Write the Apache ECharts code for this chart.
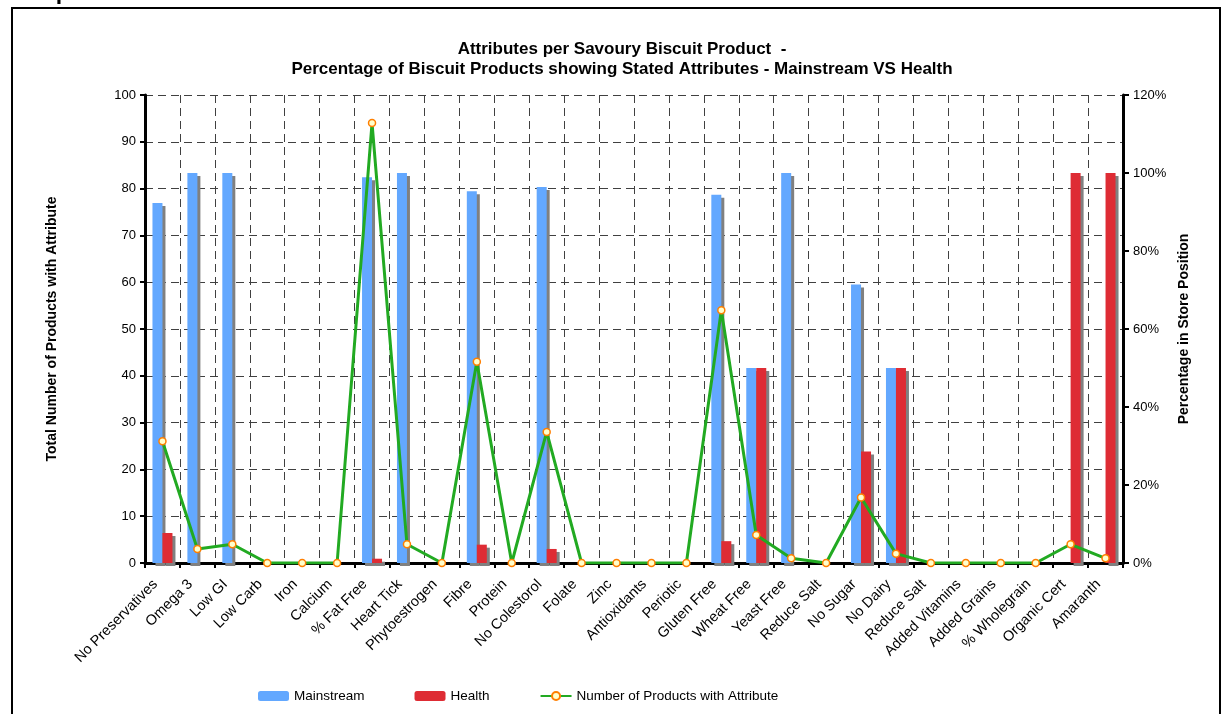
<!DOCTYPE html>
<html>
<head>
<meta charset="utf-8">
<title>Attributes per Savoury Biscuit Product</title>
<script src="https://cdn.jsdelivr.net/npm/echarts@6/dist/echarts.min.js"></script>
<style>
  html, body { margin: 0; padding: 0; background: #fff; }
  #chart { width: 1224px; height: 714px; }
</style>
</head>
<body>
<div id="chart"></div>
<script>
// Attribute categories along the x axis
const categories = [
  'No Preservatives', 'Omega 3', 'Low GI', 'Low Carb', 'Iron', 'Calcium',
  '% Fat Free', 'Heart Tick', 'Phytoestrogen', 'Fibre', 'Protein', 'No Colestorol',
  'Folate', 'Zinc', 'Antioxidants', 'Periotic', 'Gluten Free', 'Wheat Free',
  'Yeast Free', 'Reduce Salt', 'No Sugar', 'No Dairy', 'Reduce Salt',
  'Added Vitamins', 'Added Grains', '% Wholegrain', 'Organic Cert', 'Amaranth'
];

// Share of products in each store position (%), right axis
const mainstreamPct = [92.3, 100, 100, 0, 0, 0, 98.9, 100, 0, 95.3, 0, 96.4,
  0, 0, 0, 0, 94.4, 50, 100, 0, 71.4, 50, 0, 0, 0, 0, 0, 0];
const healthPct = [7.7, 0, 0, 0, 0, 0, 1.1, 0, 0, 4.7, 0, 3.6,
  0, 0, 0, 0, 5.6, 50, 0, 0, 28.6, 50, 0, 0, 0, 0, 100, 100];

// Number of products carrying each attribute, left axis
const productCounts = [26, 3, 4, 0, 0, 0, 94, 4, 0, 43, 0, 28,
  0, 0, 0, 0, 54, 6, 1, 0, 14, 2, 0, 0, 0, 0, 4, 1];

// Axis ranges
const countAxis = { min: 0, max: 100, interval: 10 };
const pctAxis = { min: 0, max: 120, interval: 20 };

const FONT = '"Liberation Sans", Arial, sans-serif';
const chart = echarts.init(document.getElementById('chart'), null, { renderer: 'canvas' });

const barShadow = {
  shadowColor: '#808080',
  shadowBlur: 0,
  shadowOffsetX: 3,
  shadowOffsetY: 3
};

const dashedGrid = { show: true, lineStyle: { color: '#404040', type: [8, 5], width: 1 } };

chart.setOption({
  backgroundColor: '#ffffff',
  animation: false,
  textStyle: { fontFamily: FONT, color: '#000' },
  title: {
    text: 'Attributes per Savoury Biscuit Product  -\nPercentage of Biscuit Products showing Stated Attributes - Mainstream VS Health',
    left: 617,
    top: 34,
    textAlign: 'center',
    textStyle: { fontFamily: FONT, fontSize: 17, fontWeight: 'bold', color: '#000', lineHeight: 20, align: 'center' }
  },
  graphic: [
    {
      type: 'rect',
      shape: { x: 12, y: 8, width: 1208, height: 720 },
      style: { fill: 'none', stroke: '#000', lineWidth: 2 },
      silent: true
    },
    {
      type: 'text',
      left: 16,
      top: -19,
      style: { text: 'Graph 20:', font: 'bold 23px ' + FONT, fill: '#000' },
      silent: true
    }
  ],
  legend: {
    left: 253,
    top: 684,
    itemWidth: 31,
    itemHeight: 10,
    itemGap: 50,
    textStyle: { fontFamily: FONT, fontSize: 13.5, color: '#000' },
    data: ['Mainstream', 'Health', 'Number of Products with Attribute']
  },
  grid: { left: 145, right: 101, top: 95, bottom: 151, containLabel: false },
  xAxis: {
    type: 'category',
    data: categories,
    boundaryGap: true,
    axisLine: { lineStyle: { color: '#000', width: 3 } },
    axisTick: { show: true, length: 5, lineStyle: { color: '#000', width: 2 } },
    axisLabel: {
      rotate: 45, fontSize: 14.5, fontFamily: FONT, color: '#000',
      margin: 12, interval: 0, padding: [0, 10, 0, 0]
    },
    splitLine: dashedGrid
  },
  yAxis: [
    {
      type: 'value',
      min: countAxis.min,
      max: countAxis.max,
      interval: countAxis.interval,
      name: 'Total Number of Products with Attribute',
      nameLocation: 'middle',
      nameGap: 86,
      nameTextStyle: { fontFamily: FONT, fontSize: 14, fontWeight: 'bold', color: '#000' },
      axisLine: { show: true, lineStyle: { color: '#000', width: 3 } },
      axisTick: { show: true, length: 5, lineStyle: { color: '#000', width: 2 } },
      axisLabel: { fontSize: 13, fontFamily: FONT, color: '#000', margin: 9 },
      splitLine: dashedGrid
    },
    {
      type: 'value',
      position: 'right',
      min: pctAxis.min,
      max: pctAxis.max,
      interval: pctAxis.interval,
      name: 'Percentage in Store Position',
      nameLocation: 'middle',
      nameGap: 53,
      nameTextStyle: { fontFamily: FONT, fontSize: 14, fontWeight: 'bold', color: '#000' },
      axisLine: { show: true, lineStyle: { color: '#000', width: 3 } },
      axisTick: { show: true, length: 6, lineStyle: { color: '#000', width: 2 } },
      axisLabel: { fontSize: 13, fontFamily: FONT, color: '#000', margin: 10, formatter: '{value}%' },
      splitLine: { show: false }
    }
  ],
  series: [
    {
      name: 'Mainstream',
      type: 'bar',
      yAxisIndex: 1,
      data: mainstreamPct,
      barWidth: 10,
      barGap: '0%',
      itemStyle: Object.assign({ color: '#63a8ff' }, barShadow),
      z: 2
    },
    {
      name: 'Health',
      type: 'bar',
      yAxisIndex: 1,
      data: healthPct,
      barWidth: 10,
      barGap: '0%',
      itemStyle: Object.assign({ color: '#de2c34' }, barShadow),
      z: 3
    },
    {
      name: 'Number of Products with Attribute',
      type: 'line',
      yAxisIndex: 0,
      data: productCounts,
      symbol: 'circle',
      symbolSize: 7,
      lineStyle: { color: '#22aa22', width: 3 },
      itemStyle: { color: '#ffffcc', borderColor: '#ff7f00', borderWidth: 1.5 },
      z: 5
    }
  ]
});
</script>
</body>
</html>
